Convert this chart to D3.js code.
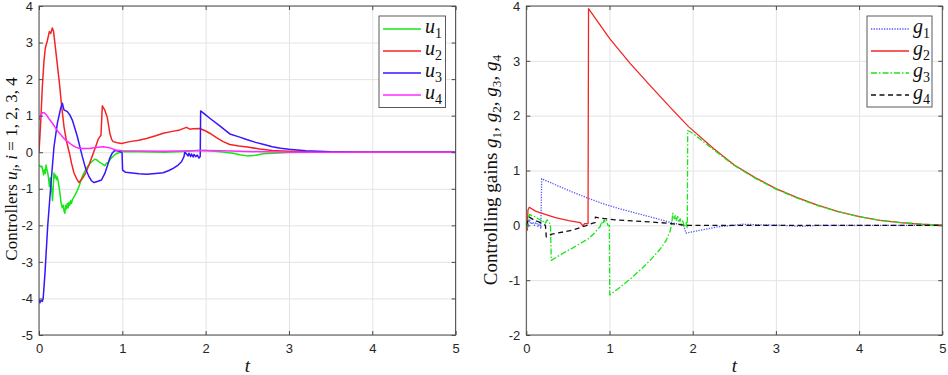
<!DOCTYPE html>
<html lang="en">
<head>
<meta charset="UTF-8">
<title>Controllers and gains</title>
<script src="https://cdn.jsdelivr.net/npm/d3@7/dist/d3.min.js"></script>
<style>
    body { margin: 0; background: #fff; }
    .tick text { font-family: "Liberation Sans", Arial, sans-serif; font-size: 13px; fill: #262626; }
    .grid line { stroke: #e3e3e3; stroke-width: 1; }
    .grid path, .ticks path, .labels path { display: none; }
    .ticks line, .labels line { stroke: #4a4a4a; }
    .lbl { font-family: "Liberation Serif", "Times New Roman", serif; fill: #111; }
</style>
</head>
<body>
<script>
    // x-axis ticks (time t)
    const tTicks = [0, 1, 2, 3, 4, 5];
    const uTicks = [-5, -4, -3, -2, -1, 0, 1, 2, 3, 4];
    const gTicks = [-2, -1, 0, 1, 2, 3, 4];

    // left panel: controllers u1..u4, pairs [t, value]
    const u1 = [[0,-0.35],[0.02,-0.4],[0.035,-0.38],[0.045,-0.5],[0.055,-0.62],[0.065,-0.48],[0.075,-0.58],
        [0.085,-0.35],[0.095,-0.48],[0.105,-0.56],[0.115,-0.72],[0.125,-0.94],[0.135,-0.7],[0.145,-0.82],
        [0.155,-1.1],[0.162,-1.32],[0.17,-1.0],[0.18,-0.57],[0.19,-0.7],[0.2,-0.62],[0.21,-0.75],[0.22,-0.68],
        [0.235,-0.85],[0.25,-1.1],[0.265,-1.39],[0.28,-1.52],[0.29,-1.45],[0.3,-1.6],[0.31,-1.67],[0.32,-1.45],
        [0.33,-1.55],[0.34,-1.4],[0.35,-1.52],[0.36,-1.37],[0.37,-1.45],[0.38,-1.33],[0.39,-1.4],[0.4,-1.3],
        [0.42,-1.22],[0.444,-1.12],[0.46,-1.05],[0.48,-0.94],[0.5,-0.8],[0.52,-0.66],[0.55,-0.52],[0.584,-0.39],
        [0.615,-0.3],[0.645,-0.24],[0.67,-0.19],[0.7,-0.22],[0.73,-0.28],[0.76,-0.32],[0.79,-0.37],[0.81,-0.3],
        [0.83,-0.28],[0.86,-0.18],[0.89,-0.11],[0.92,-0.05],[0.95,-0.02],[1.0,0.02],[1.2,0.01],[1.5,0.0],
        [1.75,0.02],[1.9,0.05],[2.0,0.05],[2.15,0.02],[2.25,-0.01],[2.33,-0.03],[2.41,-0.07],[2.5,-0.1],
        [2.6,-0.08],[2.69,-0.04],[2.8,-0.03],[3.0,-0.01],[3.3,0],[5,0]];
    const u2 = [[0,0],[0.02,0.8],[0.04,1.8],[0.06,2.5],[0.076,2.85],[0.1,3.05],[0.124,3.3],[0.14,3.25],
        [0.16,3.4],[0.175,3.3],[0.2,2.8],[0.245,1.89],[0.27,1.3],[0.3,0.7],[0.33,0.3],[0.365,-0.02],
        [0.39,-0.3],[0.42,-0.57],[0.45,-0.72],[0.48,-0.83],[0.52,-0.72],[0.56,-0.57],[0.6,-0.35],[0.64,-0.1],
        [0.68,0.15],[0.71,0.35],[0.744,0.47],[0.76,1.27],[0.79,1.15],[0.82,0.95],[0.85,0.52],[0.87,0.36],
        [0.89,0.29],[0.94,0.26],[0.99,0.24],[1.09,0.29],[1.2,0.33],[1.3,0.38],[1.4,0.45],[1.49,0.52],
        [1.6,0.57],[1.69,0.61],[1.77,0.68],[1.81,0.63],[1.85,0.64],[1.93,0.65],[2.0,0.58],[2.05,0.52],
        [2.13,0.4],[2.21,0.29],[2.29,0.21],[2.4,0.17],[2.5,0.14],[2.65,0.09],[2.8,0.05],[3.0,0.03],
        [3.3,0.005],[5,0]];
    const u3 = [[0,-4.03],[0.01,-4.12],[0.025,-4.05],[0.04,-4.08],[0.05,-4.0],[0.072,-3.3],[0.104,-2.03],
        [0.144,-0.85],[0.18,0.15],[0.22,0.79],[0.26,1.2],[0.28,1.34],[0.3,1.16],[0.34,1.11],[0.37,1.02],
        [0.4,0.88],[0.46,0.43],[0.52,-0.12],[0.56,-0.45],[0.6,-0.67],[0.63,-0.78],[0.66,-0.83],[0.7,-0.8],
        [0.75,-0.76],[0.79,-0.58],[0.82,-0.38],[0.85,-0.16],[0.88,-0.02],[0.912,0.05],[0.94,0.04],[0.97,0.02],
        [0.997,-0.02],[1.003,-0.49],[1.04,-0.55],[1.09,-0.56],[1.2,-0.59],[1.29,-0.6],[1.4,-0.58],[1.49,-0.56],
        [1.56,-0.5],[1.61,-0.44],[1.67,-0.35],[1.71,-0.26],[1.74,-0.12],[1.75,0],[1.77,-0.05],[1.79,-0.1],
        [1.8,-0.03],[1.82,-0.12],[1.83,-0.05],[1.85,-0.13],[1.86,-0.06],[1.88,-0.12],[1.9,-0.08],[1.92,-0.16],
        [1.935,-0.12],[1.94,1.13],[2.0,1.02],[2.05,0.93],[2.17,0.72],[2.29,0.5],[2.4,0.42],[2.5,0.34],
        [2.6,0.27],[2.7,0.21],[2.8,0.15],[2.9,0.11],[3.0,0.08],[3.2,0.04],[3.5,0.01],[3.8,0],[5,0]];
    const u4 = [[0,0.88],[0.02,1.0],[0.04,1.08],[0.064,1.08],[0.09,1.02],[0.124,0.9],[0.16,0.8],[0.2,0.66],
        [0.24,0.53],[0.28,0.43],[0.32,0.33],[0.36,0.26],[0.4,0.19],[0.44,0.14],[0.48,0.11],[0.52,0.1],
        [0.6,0.1],[0.68,0.13],[0.77,0.15],[0.85,0.12],[0.92,0.06],[1.0,0.04],[1.5,0.03],[2.0,0.05],
        [2.2,0.04],[2.5,0.02],[3.0,0.0],[5,0]];

    // right panel: controlling gains g1..g4
    const g1 = [[0,-0.05],[0.01,-0.09],[0.03,0.05],[0.04,0.1],[0.06,0.02],[0.08,0.06],[0.1,0.0],[0.12,0.08],
        [0.14,-0.03],[0.16,0.05],[0.175,-0.05],[0.185,0.85],[0.35,0.74],[0.55,0.61],[0.75,0.49],[0.95,0.38],
        [1.15,0.29],[1.35,0.21],[1.5,0.15],[1.69,0.07],[1.8,0.03],[1.89,0.0],[1.92,-0.14],[2.09,-0.09],
        [2.29,-0.03],[2.49,0.0],[2.6,0.02],[2.8,0.01],[3.09,0.0],[3.29,-0.02],[3.5,0.0],[5,0]];
    const g2 = [[0,-0.1],[0.01,-0.09],[0.02,0.28],[0.036,0.33],[0.11,0.26],[0.19,0.22],[0.35,0.14],
        [0.51,0.085],[0.65,0.05],[0.68,-0.01],[0.7,0.03],[0.742,0.03],[0.748,3.95],[1.0,3.41],[1.25,2.95],
        [1.5,2.53],[1.75,2.12],[1.95,1.8],[2.25,1.4],[2.5,1.1],[2.75,0.87],[3.0,0.67],[3.25,0.51],[3.5,0.37],
        [3.75,0.25],[4.0,0.16],[4.25,0.09],[4.5,0.05],[4.75,0.02],[5.0,0.005]];
    const g3 = [[0,0],[0.01,-0.03],[0.03,0.16],[0.04,0.2],[0.07,0.17],[0.11,0.16],[0.14,0.12],[0.17,0.1],
        [0.19,0.05],[0.21,0.08],[0.23,0.04],[0.25,0.1],[0.27,0.06],[0.29,0.02],[0.3,-0.64],[0.45,-0.5],
        [0.55,-0.42],[0.65,-0.33],[0.75,-0.24],[0.82,-0.14],[0.87,-0.05],[0.89,-0.02],[0.9,0.06],[0.92,0.02],
        [0.935,0.1],[0.95,0.05],[0.965,0.09],[0.98,0.0],[0.998,0.0],[1.003,-1.27],[1.1,-1.16],[1.2,-1.04],
        [1.3,-0.91],[1.4,-0.77],[1.5,-0.62],[1.6,-0.45],[1.68,-0.28],[1.73,-0.1],[1.75,0.05],[1.76,0.22],
        [1.78,0.12],[1.79,0.18],[1.8,0.08],[1.82,0.16],[1.83,0.05],[1.85,0.12],[1.86,0.02],[1.88,0.08],
        [1.9,-0.03],[1.92,0.05],[1.935,-0.05],[1.94,1.73],[2.0,1.68],[2.25,1.38],[2.5,1.09],[2.75,0.86],
        [3.0,0.66],[3.25,0.5],[3.5,0.36],[3.75,0.25],[4.0,0.16],[4.25,0.09],[4.5,0.05],[4.75,0.02],[5.0,0.005]];
    const g4 = [[0,0.0],[0.01,0.04],[0.036,0.15],[0.09,0.1],[0.17,0.05],[0.23,0.0],[0.24,-0.21],[0.31,-0.16],
        [0.55,-0.09],[0.71,-0.01],[0.8,0.04],[0.826,0.05],[0.83,0.15],[0.89,0.13],[1.07,0.1],[1.29,0.08],
        [1.5,0.06],[1.69,0.04],[1.92,0.0],[5,0]];

    const svg = d3.select('body').append('svg')
        .attr('width', 948)
        .attr('height', 375);

    function panel(box, yDomain, yTicks, series, legendBox, yLabel, lineW) {
        const x = d3.scaleLinear().domain([0, 5]).range([box.x0, box.x1]);
        const y = d3.scaleLinear().domain(yDomain).range([box.y1, box.y0]);
        const w = box.x1 - box.x0, h = box.y1 - box.y0;

        // grid
        svg.append('g').attr('class', 'grid')
            .attr('transform', 'translate(0,' + box.y1 + ')')
            .call(d3.axisBottom(x).tickValues(tTicks).tickSize(-h).tickFormat(''));
        svg.append('g').attr('class', 'grid')
            .attr('transform', 'translate(' + box.x0 + ',0)')
            .call(d3.axisLeft(y).tickValues(yTicks).tickSize(-w).tickFormat(''));

        // lines
        const line = d3.line().x(d => x(d[0])).y(d => y(d[1]));
        const clipId = 'clip' + Math.round(box.x0);
        svg.append('clipPath').attr('id', clipId).append('rect')
            .attr('x', box.x0).attr('y', box.y0).attr('width', w).attr('height', h);
        svg.append('g').attr('clip-path', 'url(#' + clipId + ')')
            .selectAll('path').data(series).enter().append('path')
            .attr('d', s => line(s.data))
            .attr('fill', 'none')
            .attr('stroke', s => s.color)
            .attr('stroke-width', lineW)
            .attr('stroke-dasharray', s => s.dash || null)
            .attr('stroke-linejoin', 'round');

        // inward ticks on all four sides
        svg.append('g').attr('class', 'labels')
            .attr('transform', 'translate(0,' + box.y1 + ')')
            .call(d3.axisBottom(x).tickValues(tTicks).tickSize(-4).tickPadding(9).tickFormat(d3.format('d')));
        svg.append('g').attr('class', 'ticks')
            .attr('transform', 'translate(0,' + box.y0 + ')')
            .call(d3.axisTop(x).tickValues(tTicks).tickSize(-4).tickFormat(''));
        svg.append('g').attr('class', 'labels')
            .attr('transform', 'translate(' + box.x0 + ',0)')
            .call(d3.axisLeft(y).tickValues(yTicks).tickSize(-4).tickPadding(6).tickFormat(d3.format('d')));
        svg.append('g').attr('class', 'ticks')
            .attr('transform', 'translate(' + box.x1 + ',0)')
            .call(d3.axisRight(y).tickValues(yTicks).tickSize(-4).tickFormat(''));
        svg.selectAll('.labels .tick text').text(function () { return this.textContent.replace('−', '-'); });

        svg.append('rect')
            .attr('x', box.x0).attr('y', box.y0).attr('width', w).attr('height', h)
            .attr('fill', 'none').attr('stroke', '#4a4a4a').attr('stroke-width', 1);

        // x label
        svg.append('text').attr('class', 'lbl')
            .attr('x', (box.x0 + box.x1) / 2).attr('y', 372)
            .attr('text-anchor', 'middle').attr('font-size', 19)
            .attr('font-style', 'italic').text('t');

        // y label
        const yl = svg.append('text').attr('class', 'lbl')
            .attr('transform', 'translate(' + yLabel.x + ',' + yLabel.cy + ') rotate(-90)')
            .attr('text-anchor', 'middle').attr('font-size', yLabel.size);
        yLabel.parts.forEach(p => {
            const ts = yl.append('tspan').text(p.t);
            if (p.it) ts.attr('font-style', 'italic');
            if (p.sub) ts.attr('font-size', yLabel.size * 0.7).attr('dy', 4);
            if (p.up) ts.attr('dy', -4);
        });

        // legend
        const lg = svg.append('g');
        lg.append('rect')
            .attr('x', legendBox.x).attr('y', legendBox.y).attr('width', legendBox.w).attr('height', legendBox.h)
            .attr('fill', '#fff').attr('stroke', '#5a5a5a').attr('stroke-width', 1);
        series.forEach((s, i) => {
            const cy = legendBox.y + 13 + i * 22;
            lg.append('line')
                .attr('x1', legendBox.x + 4).attr('x2', legendBox.x + 42)
                .attr('y1', cy).attr('y2', cy)
                .attr('stroke', s.color).attr('stroke-width', lineW)
                .attr('stroke-dasharray', s.dash || null);
            const t = lg.append('text').attr('class', 'lbl')
                .attr('x', legendBox.x + 46).attr('y', cy + 4)
                .attr('font-size', 20);
            t.append('tspan').attr('font-style', 'italic').text(s.name);
            t.append('tspan').attr('font-size', 14).attr('dy', 5).text(s.sub);
        });
    }

    panel({x0: 39, x1: 455.6, y0: 6, y1: 335}, [-5, 4], uTicks,
        [
            {name: 'u', sub: '1', data: u1, color: '#17e617'},
            {name: 'u', sub: '2', data: u2, color: '#f52424'},
            {name: 'u', sub: '3', data: u3, color: '#3416ff'},
            {name: 'u', sub: '4', data: u4, color: '#ff2bff'}
        ],
        {x: 379, y: 16, w: 66.5, h: 91.5},
        {x: 17, cy: 169, size: 17, parts: [{t: 'Controllers '}, {t: 'u', it: true}, {t: 'i', it: true, sub: true},
            {t: ', ', up: true}, {t: 'i', it: true}, {t: ' = 1, 2, 3, 4'}]},
        1.5);

    panel({x0: 526.3, x1: 942.3, y0: 6, y1: 335}, [-2, 4], gTicks,
        [
            {name: 'g', sub: '1', data: g1, color: '#5555ff', dash: '1.3,1.3'},
            {name: 'g', sub: '2', data: g2, color: '#f52424'},
            {name: 'g', sub: '3', data: g3, color: '#17e617', dash: '6,2,1.5,2'},
            {name: 'g', sub: '4', data: g4, color: '#111', dash: '5,3.5'}
        ],
        {x: 867, y: 16, w: 65, h: 91},
        {x: 497, cy: 170, size: 19, parts: [{t: 'Controlling gains '}, {t: 'g', it: true}, {t: '1', sub: true}, {t: ', ', up: true},
            {t: 'g', it: true}, {t: '2', sub: true}, {t: ', ', up: true}, {t: 'g', it: true}, {t: '3', sub: true},
            {t: ', ', up: true}, {t: 'g', it: true}, {t: '4', sub: true}]},
        1.3);
</script>
</body>
</html>
